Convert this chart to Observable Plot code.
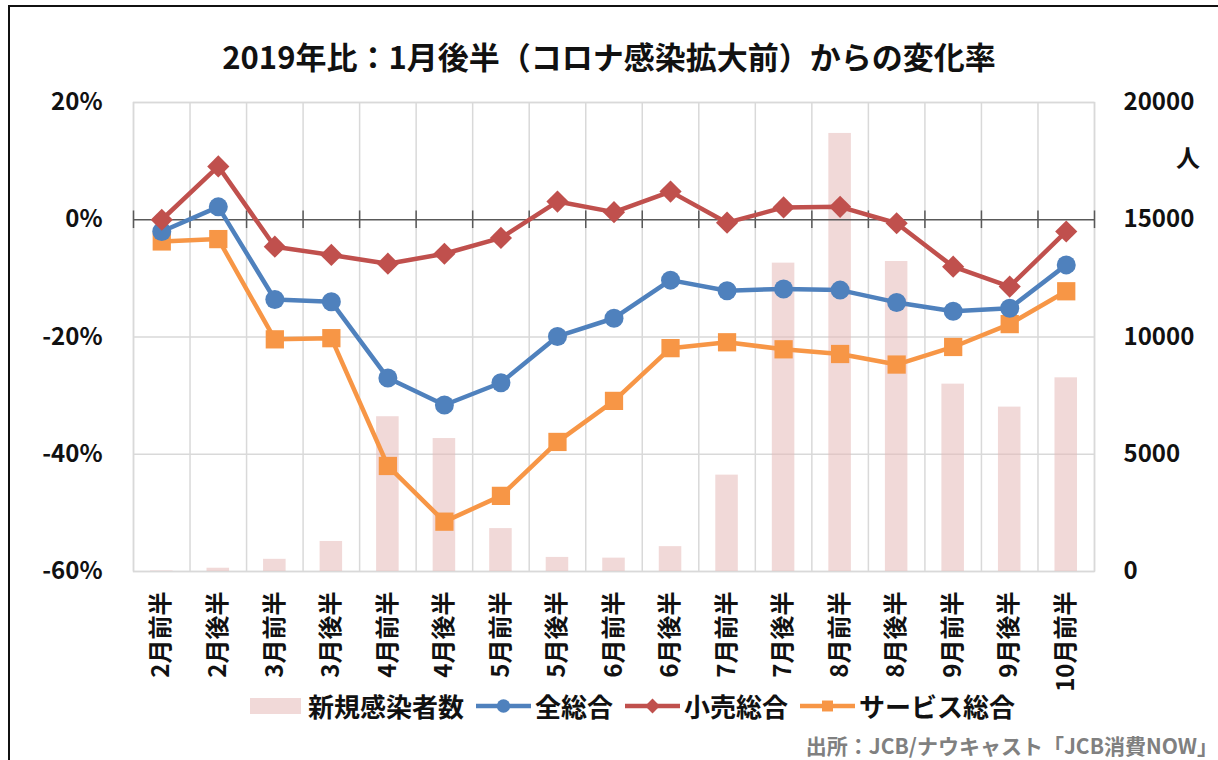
<!DOCTYPE html>
<html>
<head>
<meta charset="utf-8">
<script src="https://cdn.jsdelivr.net/npm/d3@7"></script>
<script src="https://cdn.jsdelivr.net/npm/@observablehq/plot@0.6"></script>
<style>
  html, body { margin: 0; padding: 0; background: #fff; }
  body { width: 1218px; height: 760px; overflow: hidden; position: relative;
         font-family: "Noto Sans CJK JP", "Noto Sans", sans-serif; font-weight: 700; color: #111; }
  #border { position: absolute; left: 8px; top: 5px; width: 1400px; height: 1000px; border: 2px solid #111; box-sizing: border-box; }
  #chart { position: absolute; left: 0; top: 0; }
  #title { position: absolute; left: 0; width: 1218px; top: 36px; text-align: center; font-size: 31px; line-height: 40px; }
  #unit { position: absolute; left: 1176px; top: 142px; font-size: 24px; line-height: 30px; }
  #legend { position: absolute; left: 250px; top: 688px; display: flex; align-items: center; font-size: 26px; line-height: 36px; white-space: nowrap; }
  #legend .item { display: flex; align-items: center; margin-right: 11px; }
  #legend .item svg { margin-right: 3px; }
  #caption { position: absolute; right: 0px; top: 730px; font-size: 21px; line-height: 30px; color: #808080; }
</style>
</head>
<body>
<div id="border"></div>
<div id="chart"></div>
<div id="title">2019年比：1月後半（コロナ感染拡大前）からの変化率</div>
<div id="unit">人</div>
<div id="legend"></div>
<div id="caption">出所：JCB/ナウキャスト「JCB消費NOW」</div>
<script>
// ---- data ----
const categories = ["2月前半","2月後半","3月前半","3月後半","4月前半","4月後半","5月前半","5月後半","6月前半","6月後半","7月前半","7月後半","8月前半","8月後半","9月前半","9月後半","10月前半"];
const totalAll = [-2.0, 2.2, -13.6, -14.0, -27.0, -31.6, -27.8, -19.9, -16.8, -10.3, -12.1, -11.8, -12.0, -14.1, -15.6, -15.1, -7.7];
const retail   = [0.0, 9.1, -4.6, -6.0, -7.5, -5.8, -3.1, 3.1, 1.3, 4.8, -0.5, 2.1, 2.2, -0.6, -8.0, -11.4, -2.0];
const service  = [-3.7, -3.3, -20.4, -20.2, -42.0, -51.5, -47.1, -37.9, -30.9, -21.9, -20.9, -22.1, -22.9, -24.7, -21.7, -17.8, -12.2];
const newCases = [20, 140, 520, 1280, 6600, 5670, 1830, 600, 570, 1060, 4110, 13150, 18680, 13220, 7990, 7010, 8260];
const leftTicks = [-60, -40, -20, 0, 20];
const rightTicks = [0, 5000, 10000, 15000, 20000];
const seriesNames = ["新規感染者数", "全総合", "小売総合", "サービス総合"];

// ---- secondary axis mapping (0..20000 people -> -60..20 %) ----
const pMin = -60, pMax = 20, cMax = 20000;
const toPct = n => pMin + n * (pMax - pMin) / cMax;
const toCases = p => Math.round((p - pMin) * cMax / (pMax - pMin));

const rows = categories.map((c, i) => ({i, c, total: totalAll[i], retail: retail[i], service: service[i], cases: newCases[i]}));
const bounds = d3.range(categories.length + 1).map(i => i - 0.5);

const C = {blue: "#4f81bd", red: "#c0504d", orange: "#f79646", bar: "#e6b9b8", grid: "#d9d9d9", zero: "#595959"};

const plot = Plot.plot({
  width: 1218, height: 700,
  marginTop: 102, marginBottom: 129, marginLeft: 133, marginRight: 124,
  style: {fontFamily: '"Noto Sans CJK JP", "Noto Sans", sans-serif', fontSize: "24px", fontWeight: "700", background: "transparent", color: "#111", overflow: "visible"},
  x: {type: "linear", domain: [-0.5, categories.length - 0.5], label: null},
  y: {domain: [pMin, pMax], label: null},
  marks: [
    Plot.ruleY([-60, -40, -20, 20], {stroke: C.grid, strokeWidth: 1.5}),
    Plot.ruleX(bounds, {stroke: C.grid, strokeWidth: 1.5}),
    Plot.frame({stroke: C.grid, strokeWidth: 1.5}),
    Plot.rectY(rows, {x1: d => d.i - 0.5, x2: d => d.i + 0.5, y1: pMin, y2: d => toPct(d.cases), fill: C.bar, fillOpacity: 0.55, insetLeft: 17, insetRight: 17}),
    Plot.ruleY([0], {stroke: C.zero, strokeWidth: 1.5}),
    Plot.ruleX(bounds, {y1: -1.5, y2: 1.5, stroke: C.zero, strokeWidth: 1.5}),
    Plot.line(rows, {x: "i", y: "service", stroke: C.orange, strokeWidth: 4.5}),
    Plot.dot(rows, {x: "i", y: "service", symbol: "square", r: 10.3, fill: C.orange}),
    Plot.line(rows, {x: "i", y: "total", stroke: C.blue, strokeWidth: 4.5}),
    Plot.dot(rows, {x: "i", y: "total", r: 9.5, fill: C.blue}),
    Plot.line(rows, {x: "i", y: "retail", stroke: C.red, strokeWidth: 4.5}),
    Plot.dot(rows, {x: "i", y: "retail", symbol: "diamond2", r: 10, fill: C.red}),
    Plot.axisY({anchor: "left", ticks: leftTicks, tickFormat: d => d + "%", tickSize: 0, tickPadding: 31, label: null}),
    Plot.axisY({anchor: "right", ticks: rightTicks.map(toPct), tickFormat: p => String(toCases(p)), tickSize: 0, tickPadding: 29, label: null}),
    Plot.axisX({ticks: d3.range(categories.length), tickFormat: i => categories[i], tickRotate: -90, tickSize: 0, tickPadding: 20, label: null})
  ]
});
document.getElementById("chart").appendChild(plot);

// ---- legend ----
const legend = d3.select("#legend");
const items = [
  {name: seriesNames[0], kind: "bar"},
  {name: seriesNames[1], kind: "line", color: C.blue, sym: "circle"},
  {name: seriesNames[2], kind: "line", color: C.red, sym: "diamond"},
  {name: seriesNames[3], kind: "line", color: C.orange, sym: "square"}
];
for (const it of items) {
  const div = legend.append("div").attr("class", "item");
  if (it.kind === "bar") {
    const s = div.append("svg").attr("width", 51).attr("height", 16);
    s.append("rect").attr("x", 0).attr("y", 0).attr("width", 51).attr("height", 16).attr("fill", C.bar).attr("fill-opacity", 0.55);
    div.select("svg").style("margin-right", "7px");
  } else {
    const s = div.append("svg").attr("width", 57).attr("height", 20);
    s.append("line").attr("x1", 1).attr("x2", 56).attr("y1", 10).attr("y2", 10).attr("stroke", it.color).attr("stroke-width", 4.5);
    const sym = it.sym === "circle" ? d3.symbolCircle : it.sym === "diamond" ? d3.symbolDiamond2 : d3.symbolSquare;
    const size = it.sym === "square" ? 120 : 140;
    s.append("path").attr("transform", "translate(28.5,10)").attr("d", d3.symbol(sym, size)()).attr("fill", it.color);
  }
  div.append("span").text(it.name);
}
</script>
</body>
</html>
